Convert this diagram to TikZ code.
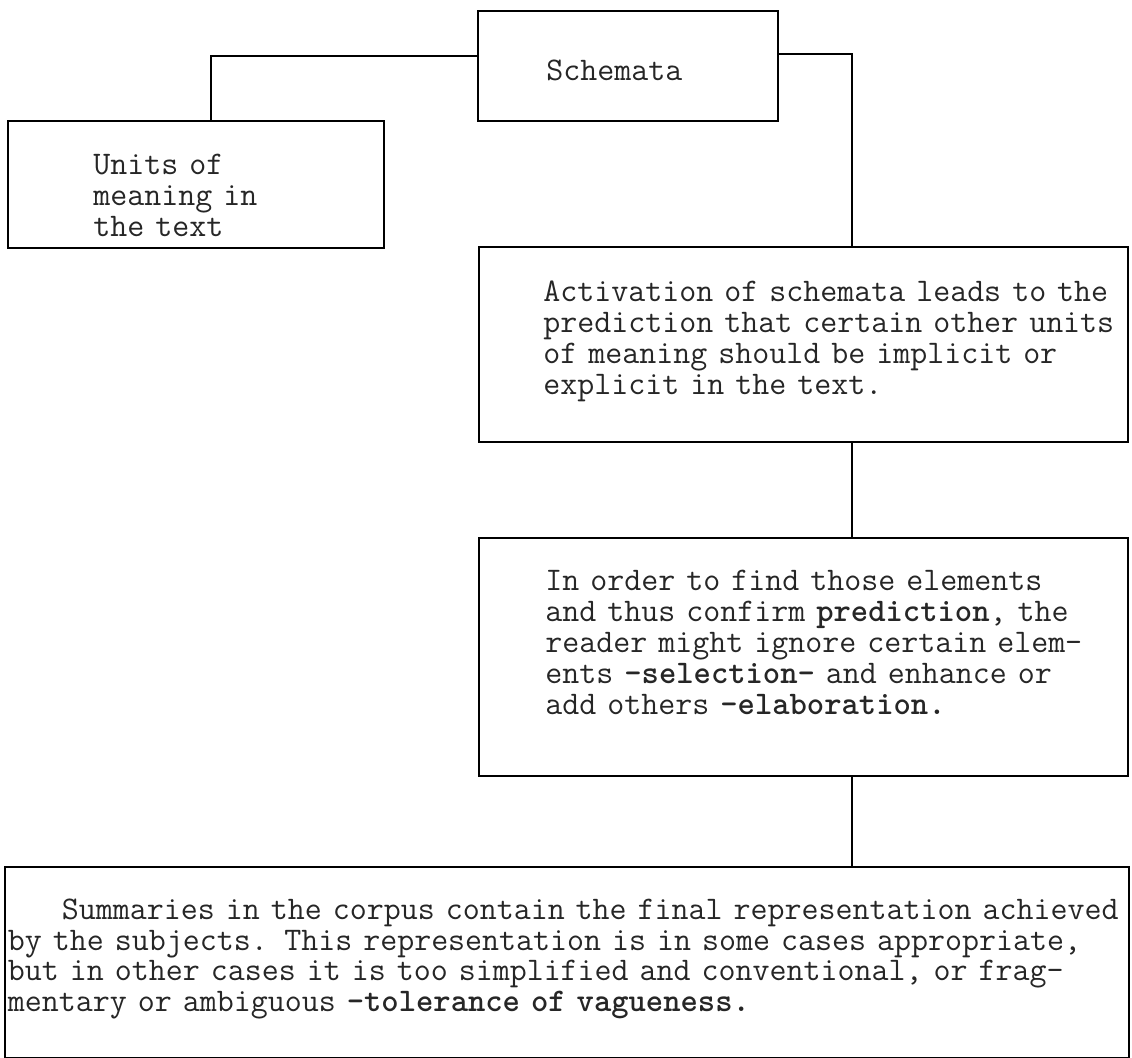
\documentclass[tikz,border=0pt]{standalone}
\usepackage{fontspec}
\usepackage{xcolor}
\usetikzlibrary{calc, positioning}

\begin{document}
\begin{tikzpicture}[x=0.5pt, y=-0.5pt, node distance=0pt,
		      BX/.style = {draw, line width=1.1pt, inner sep=0pt, anchor=north west},
		      TX/.style = {inner sep=0pt, anchor=base west, align=left, text=black!85,
		      font={\ttfamily\fontsize{16.5}{15.5}\selectfont\lineskiplimit=-20pt}},
		      LN/.style = {line width=1pt} ]

   \useasboundingbox (0,0) rectangle (1132,1058);

   \node (schem)  [BX, minimum width=150pt,   minimum height=55pt]   at (477,10)  {};
   \node (units)  [BX, minimum width=188pt,   minimum height=63.5pt] at (7,120)   {};
   \node (activ)  [BX, minimum width=324.5pt, minimum height=97.5pt] at (478,246) {};
   \node (select) [BX, minimum width=324.5pt, minimum height=119pt]  at (478,537) {};
   \node (summ)   [BX, minimum width=562pt,   minimum height=95.5pt] at (4,866)   {};

   \node (schemtxt) [TX, text width=120pt]
        at ([xshift=34.5pt, yshift=-35.5pt]schem.north west) {Schemata};
   \node (unitstxt) [TX, text width=150pt]
        at ([xshift=43pt, yshift=-27.5pt]units.north west)
{
  Units of\\
  meaning in\\
  the text
};
   \node (activtxt) [TX, text width=320pt]
        at ([xshift=32.5pt, yshift=-28pt]activ.north west)
{
  Activation of schemata leads to the\\
  prediction that certain other units\\
  of meaning should be implicit or\\
  explicit in the text.
};
   \node (selecttxt) [TX, text width=320pt]
        at ([xshift=33.5pt, yshift=-27pt]select.north west)
{
  In order to find those elements\\
  and thus confirm \textbf{prediction}, the\\
  reader might ignore certain elem-\\
  ents \textbf{-selection-} and enhance or\\
  add others \textbf{-elaboration.}
};
   \node (summtxt) [TX, text width=600pt,
        font={\ttfamily\fontsize{16.5}{15.25}\selectfont\lineskiplimit=-20pt}]
        at ([xshift=1.75pt, yshift=-27pt]summ.north west)
{
  \hspace*{27pt}Summaries in the corpus contain the final representation achieved\\
  by the subjects. This representation is in some cases appropriate,\\
  but in other cases it is too simplified and conventional, or frag-\\
  mentary or ambiguous \textbf{-tolerance of vagueness.}
};

\draw[LN] ([yshift=5pt]schem.west) -| ([xshift=7.5pt]units.north);
\draw[LN] ([yshift=6pt]schem.east) -| ([xshift=24pt]activ.north);
\draw[LN] ([xshift=24pt]activ.south) -- ([xshift=24pt]select.north);
\draw[LN] ([xshift=24pt]select.south) -- ([xshift=24pt]select.south |- summ.north);
\end{tikzpicture}
\end{document}
